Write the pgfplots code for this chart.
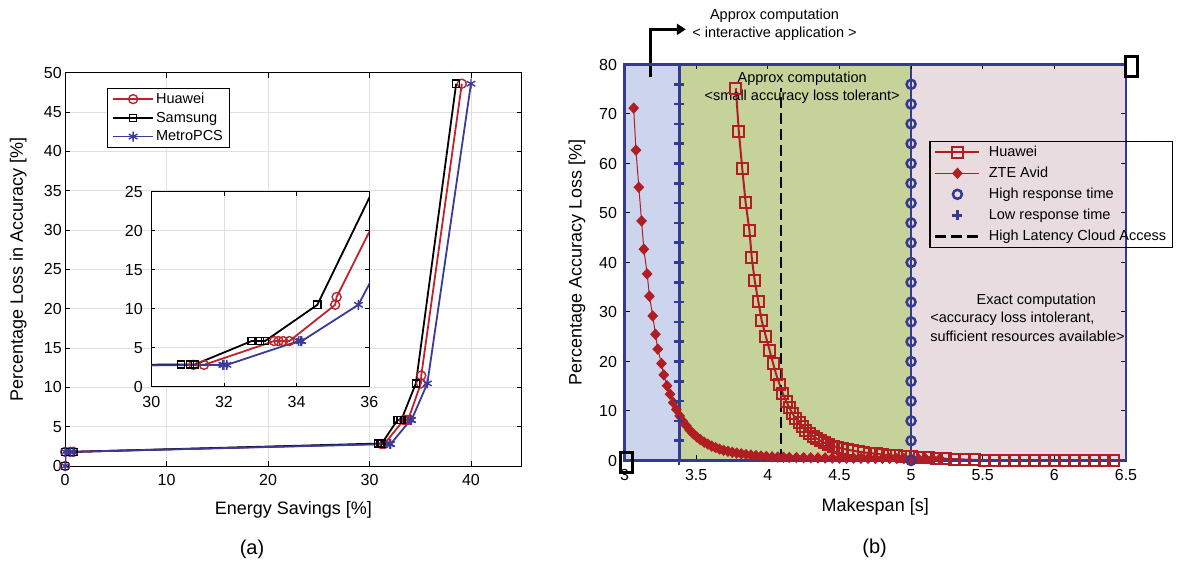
\documentclass[border=0pt]{standalone}
\usepackage{fontspec}
\setmainfont{Liberation Sans}
\usepackage{pgfplots}
\pgfplotsset{compat=1.18}
\usetikzlibrary{arrows.meta}
\definecolor{hred}{RGB}{192,34,44}
\definecolor{mblue}{RGB}{58,58,152}
\definecolor{rred}{RGB}{176,30,36}
\definecolor{navy}{RGB}{52,58,148}
\definecolor{regblue}{RGB}{205,212,238}
\definecolor{reggreen}{RGB}{197,211,155}
\definecolor{regpink}{RGB}{232,220,225}
\newcommand{\tickfont}{\fontsize{16}{18}\selectfont}
\newcommand{\labfont}{\fontsize{18}{21}\selectfont}
\newcommand{\legfont}{\fontsize{14.5}{17}\selectfont}
\begin{document}
\begin{tikzpicture}
\useasboundingbox (0pt,0pt) rectangle (1178pt,565pt);
\pgfplotsset{
  every tick label/.append style={font=\tickfont},
  /pgf/number format/assume math mode=true,
  legend image code/.code={\draw[mark repeat=2,mark phase=2,#1] plot coordinates {(0pt,0pt)(20pt,0pt)(40pt,0pt)};},
}
% ---------------- (a) main axis ----------------
\begin{axis}[
  at={(65.2pt,99pt)}, anchor=south west, scale only axis,
  width=456.5pt, height=393.3pt,
  xmin=0, xmax=45, ymin=0, ymax=50,
  xtick={0,10,...,40}, ytick={0,5,...,50},
  grid=major, grid style={color=black!12, line width=0.8pt},
  tick align=inside, xtick pos=both, ytick pos=both,
  xticklabel pos=lower, yticklabel pos=left,
  xticklabel style={yshift=-5pt},
  major tick length=5pt, tick style={black, line width=0.8pt},
  axis line style={line width=1pt},
  xlabel={Energy Savings [\%]}, ylabel={Percentage Loss in Accuracy [\%]},
  label style={font=\labfont},
  xlabel style={at={(axis description cs:0.5,-0.112)}, anchor=center},
  ylabel style={at={(axis description cs:-0.103,0.5)}, anchor=center},
  legend style={at={(rel axis cs:0.091,0.962)}, anchor=north west, draw=black, line width=1pt,
    fill=white, font=\legfont, inner xsep=5pt, inner ysep=3pt, row sep=3pt, cells={anchor=west}},
  legend cell align=left,
]
\addplot[hred, line width=1.8pt, mark=o, mark size=4.5pt, mark options={line width=1.4pt}] coordinates {
(0,0) (0,1.8) (0.5,1.8) (0.8,1.8) (31.16,2.8) (31.45,2.8) (33.38,5.85) (33.5,5.85) (33.63,5.85) (33.8,5.85) (35.06,10.5) (35.1,11.5) (39.1,48.6)};
\addlegendentry{Huawei}
\addplot[black, line width=1.8pt, mark=square, mark size=3.6pt, mark options={line width=1.4pt}] coordinates {
(0,0) (0,1.8) (0.5,1.8) (0.8,1.8) (30.82,2.85) (31.07,2.85) (31.2,2.85) (32.76,5.85) (32.99,5.85) (33.13,5.85) (34.57,10.5) (38.54,48.6)};
\addlegendentry{Samsung}
\addplot[mblue, line width=1.8pt, mark=asterisk, mark size=5pt, mark options={line width=1.4pt}] coordinates {
(0,0) (0,1.8) (0.5,1.8) (0.8,1.8) (31.97,2.8) (32.0,2.8) (32.08,2.8) (34.05,5.85) (34.1,5.85) (34.14,5.85) (35.7,10.5) (40.0,48.6)};
\addlegendentry{MetroPCS}
\end{axis}
% ---------------- (a) inset ----------------
\begin{axis}[
  at={(151.3pt,178.3pt)}, anchor=south west, scale only axis,
  width=218pt, height=195pt,
  xmin=30, xmax=36, ymin=0, ymax=25,
  xtick={30,32,34,36}, ytick={0,5,...,25},
  grid=major, grid style={color=black!12, line width=0.8pt},
  axis background/.style={fill=white},
  tick align=inside, xtick pos=both, ytick pos=both,
  xticklabel pos=lower, yticklabel pos=left,
  xticklabel style={yshift=-6pt}, yticklabel style={xshift=-5pt},
  major tick length=4pt, tick style={black, line width=0.8pt},
  axis line style={line width=1pt},
]
\addplot[hred, line width=1.8pt, mark=o, mark size=4.5pt, mark options={line width=1.4pt}] coordinates {
(0.8,1.8) (31.16,2.8) (31.45,2.8) (33.38,5.85) (33.5,5.85) (33.63,5.85) (33.8,5.85) (35.06,10.5) (35.1,11.5) (39.1,48.6)};
\addplot[black, line width=1.8pt, mark=square, mark size=3.6pt, mark options={line width=1.4pt}] coordinates {
(0.8,1.8) (30.82,2.85) (31.07,2.85) (31.2,2.85) (32.76,5.85) (32.99,5.85) (33.13,5.85) (34.57,10.5) (38.54,48.6)};
\addplot[mblue, line width=1.8pt, mark=asterisk, mark size=5pt, mark options={line width=1.4pt}] coordinates {
(0.8,1.8) (31.97,2.8) (32.0,2.8) (32.08,2.8) (34.05,5.85) (34.1,5.85) (34.14,5.85) (35.7,10.5) (40.0,48.6)};
\end{axis}
% ---------------- (b) ----------------
\begin{axis}[
  at={(624.5pt,104.5pt)}, anchor=south west, scale only axis,
  width=501.5pt, height=396pt,
  xmin=3, xmax=6.5, ymin=0, ymax=80,
  xtick={3,3.5,...,6.5}, ytick={0,10,...,80},
  clip=false, axis on top=true,
  tick align=inside, xtick pos=both, ytick pos=both,
  xticklabel pos=lower, yticklabel pos=left,
  major tick length=5pt, tick style={black, line width=1pt},
  axis line style={navy, line width=2.5pt},
  xticklabel style={yshift=-5pt}, yticklabel style={xshift=-4pt},
  xlabel={Makespan [s]}, ylabel={Percentage Accuracy Loss [\%]},
  label style={font=\labfont},
  xlabel style={at={(axis description cs:0.5,-0.117)}, anchor=center},
  ylabel style={at={(axis description cs:-0.095,0.5)}, anchor=center},
  legend style={at={(rel axis cs:0.608,0.8076)}, anchor=north west, draw=black, line width=1.2pt,
    fill=none, font=\legfont, inner xsep=4pt, inner ysep=3pt, row sep=5pt, cells={anchor=west},
    column sep=6pt},
  legend cell align=left,
  legend image code/.code={\draw[mark repeat=2,mark phase=2,#1] plot coordinates {(0pt,0pt)(22pt,0pt)(44pt,0pt)};},
]
\addplot[fill=regblue, draw=navy, line width=2.8pt, forget plot] coordinates {(3,0) (3.382,0) (3.382,80) (3,80)} --cycle;
\addplot[fill=reggreen, draw=navy, line width=2.8pt, forget plot] coordinates {(3.382,0) (5,0) (5,80) (3.382,80)} --cycle;
\addplot[fill=regpink, draw=navy, line width=2.8pt, forget plot] coordinates {(5,0) (6.5,0) (6.5,80) (5,80)} --cycle;
\addplot[rred, line width=2pt, mark=square, mark size=5.5pt, mark options={line width=2pt}] coordinates {
(3.777,75.2) (3.798,66.4) (3.822,58.9) (3.845,52.2) (3.872,46.4) (3.888,41.0) (3.909,36.3) (3.934,32.1)
(3.958,28.2) (3.987,25.0) (4.013,22.2) (4.037,19.6) (4.060,17.3) (4.083,15.3) (4.105,13.6) (4.128,12.0)
(4.150,10.7) (4.172,9.5) (4.195,8.5) (4.218,7.6) (4.242,6.8) (4.266,6.1) (4.291,5.5) (4.317,4.9)
(4.343,4.4) (4.370,3.95) (4.398,3.55) (4.427,3.2) (4.457,2.9) (4.488,2.65) (4.520,2.4) (4.555,2.2)
(4.592,2.0) (4.630,1.8) (4.670,1.65) (4.712,1.5) (4.756,1.35) (4.802,1.2) (4.850,1.08) (4.900,0.96)
(4.952,0.85) (5.005,0.75) (5.06,0.65) (5.12,0.55) (5.18,0.45) (5.24,0.36) (5.30,0.28) (5.37,0.2)
(5.44,0.14) (5.51,0.08) (5.58,0.04) (5.65,0.0) (5.72,-0.03) (5.79,-0.05) (5.86,-0.07) (5.93,-0.08)
(6.00,-0.09) (6.07,-0.1) (6.14,-0.1) (6.21,-0.1) (6.28,-0.1) (6.35,-0.1) (6.41,-0.1)};
\addlegendentry{Huawei}
\addplot[rred, line width=1pt, mark=diamond*, mark size=5pt, mark options={fill=rred, draw=rred, xscale=1.25}] coordinates {
(3.064,71.2) (3.080,62.7) (3.100,55.2) (3.119,48.4) (3.135,42.7) (3.158,37.7) (3.174,33.2) (3.197,29.2)
(3.216,25.5) (3.232,22.5) (3.258,19.6) (3.274,17.3) (3.297,15.1) (3.318,13.4) (3.340,11.7) (3.362,10.3)
(3.385,9.0) (3.408,7.9) (3.432,7.0) (3.456,6.1) (3.480,5.4) (3.505,4.75) (3.530,4.2) (3.556,3.7)
(3.582,3.3) (3.609,2.9) (3.636,2.6) (3.664,2.3) (3.692,2.05) (3.722,1.85) (3.752,1.65) (3.783,1.5)
(3.815,1.35) (3.848,1.2) (3.882,1.1) (3.917,1.0) (3.953,0.9) (3.990,0.82) (4.03,0.75) (4.07,0.7)
(4.11,0.66) (4.15,0.62) (4.20,0.6) (4.25,0.57) (4.30,0.55) (4.35,0.53) (4.40,0.51) (4.45,0.5)
(4.50,0.48) (4.55,0.47) (4.60,0.46) (4.65,0.45) (4.70,0.44) (4.75,0.43) (4.80,0.42) (4.85,0.41)
(4.90,0.4) (4.95,0.4) (5.00,0.39) (5.05,0.38) (5.10,0.38) (5.15,0.37) (5.20,0.37)};
\addlegendentry{ZTE Avid}
\addplot[only marks, navy, mark=o, mark size=4.5pt, mark options={line width=2.5pt}] coordinates {
(5,0) (5,4) (5,8) (5,12) (5,16) (5,20) (5,24) (5,28) (5,32) (5,36) (5,40) (5,44) (5,48) (5,52) (5,56) (5,60) (5,64) (5,68) (5,72) (5,76)};
\addlegendentry{High response time}
\addplot[only marks, navy, mark=+, mark size=5pt, mark options={line width=2.5pt}] coordinates {
(3.382,0) (3.382,4) (3.382,8) (3.382,12) (3.382,16) (3.382,20) (3.382,24) (3.382,28) (3.382,32) (3.382,36) (3.382,40) (3.382,44) (3.382,48) (3.382,52) (3.382,56) (3.382,60) (3.382,64) (3.382,68) (3.382,72) (3.382,76)};
\addlegendentry{Low response time}
\addplot[black, line width=2.8pt, dash pattern=on 11pt off 5pt] coordinates {(4.092,0) (4.092,75.2)};
\addlegendentry{High Latency Cloud Access}
\addplot[only marks, black, mark=square, mark size=10pt, mark options={xscale=0.6, line width=3pt}, forget plot] coordinates {(3.015,-0.5) (6.54,79.6)};
\draw[line width=3pt, -{Triangle[length=9pt,width=11pt]}] (axis cs:3.179,77.4) |- (axis cs:3.428,87.1);
\node[align=center, font=\legfont, inner sep=0pt] at (axis cs:4.047,88.1) {Approx computation\\[1pt]< interactive application >};
\node[align=center, font=\legfont, inner sep=0pt] at (axis cs:4.24,75.35) {Approx computation\\[1pt]<small accuracy loss tolerant>};
\node[font=\legfont, inner sep=0pt] at (axis cs:5.874,32.3) {Exact computation};
\node[font=\legfont, inner sep=0pt, anchor=west] at (axis cs:5.133,28.6) {<accuracy loss intolerant,};
\node[font=\legfont, inner sep=0pt, anchor=west] at (axis cs:5.133,25.0) {sufficient resources available>};
\end{axis}
\node[font=\fontsize{20}{22}\selectfont] at (252pt,16pt) {(a)};
\node[font=\fontsize{20}{22}\selectfont] at (874.6pt,16.7pt) {(b)};
\end{tikzpicture}
\end{document}
